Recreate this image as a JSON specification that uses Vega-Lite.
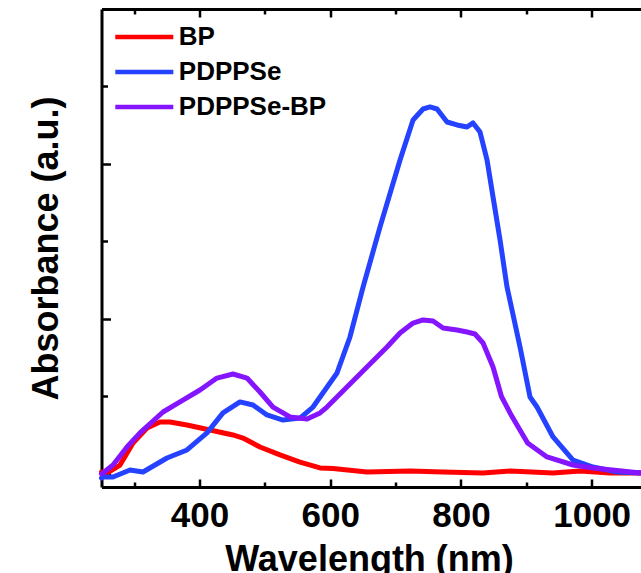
{
  "$schema": "https://vega.github.io/schema/vega-lite/v6.json",
  "width": 539.5,
  "height": 478,
  "autosize": "none",
  "padding": {"left": 101.5, "top": 9, "right": 0, "bottom": 86},
  "background": "white",
  "config": {
    "view": {"stroke": null},
    "font": "Liberation Sans",
    "axis": {"grid": false, "domainColor": "black", "tickColor": "black", "domainWidth": 3, "tickWidth": 2.5, "labelColor": "black", "titleColor": "black", "labelFont": "Liberation Sans", "titleFont": "Liberation Sans"}
  },
  "data": {"values": [
    {"sample": "BP", "wavelength": 250, "absorbance": 0.013},
    {"sample": "BP", "wavelength": 258.4, "absorbance": 0.006},
    {"sample": "BP", "wavelength": 278.3, "absorbance": 0.058},
    {"sample": "BP", "wavelength": 298.2, "absorbance": 0.2},
    {"sample": "BP", "wavelength": 319.6, "absorbance": 0.297},
    {"sample": "BP", "wavelength": 339.5, "absorbance": 0.335},
    {"sample": "BP", "wavelength": 354.8, "absorbance": 0.335},
    {"sample": "BP", "wavelength": 380.8, "absorbance": 0.316},
    {"sample": "BP", "wavelength": 416.0, "absorbance": 0.284},
    {"sample": "BP", "wavelength": 451.2, "absorbance": 0.252},
    {"sample": "BP", "wavelength": 466.5, "absorbance": 0.232},
    {"sample": "BP", "wavelength": 492.5, "absorbance": 0.174},
    {"sample": "BP", "wavelength": 523.1, "absorbance": 0.123},
    {"sample": "BP", "wavelength": 553.7, "absorbance": 0.077},
    {"sample": "BP", "wavelength": 584.4, "absorbance": 0.039},
    {"sample": "BP", "wavelength": 604.3, "absorbance": 0.035},
    {"sample": "BP", "wavelength": 656.2, "absorbance": 0.013},
    {"sample": "BP", "wavelength": 722.0, "absorbance": 0.019},
    {"sample": "BP", "wavelength": 772.6, "absorbance": 0.013},
    {"sample": "BP", "wavelength": 833.8, "absorbance": 0.006},
    {"sample": "BP", "wavelength": 875.1, "absorbance": 0.019},
    {"sample": "BP", "wavelength": 940.9, "absorbance": 0.006},
    {"sample": "BP", "wavelength": 982.2, "absorbance": 0.019},
    {"sample": "BP", "wavelength": 1028.1, "absorbance": 0.006},
    {"sample": "BP", "wavelength": 1075.5, "absorbance": 0.006},
    {"sample": "PDPPSe", "wavelength": 250, "absorbance": -0.026},
    {"sample": "PDPPSe", "wavelength": 252.3, "absorbance": -0.019},
    {"sample": "PDPPSe", "wavelength": 267.6, "absorbance": -0.019},
    {"sample": "PDPPSe", "wavelength": 293.6, "absorbance": 0.026},
    {"sample": "PDPPSe", "wavelength": 313.5, "absorbance": 0.013},
    {"sample": "PDPPSe", "wavelength": 350.2, "absorbance": 0.103},
    {"sample": "PDPPSe", "wavelength": 380.8, "absorbance": 0.155},
    {"sample": "PDPPSe", "wavelength": 411.4, "absorbance": 0.265},
    {"sample": "PDPPSe", "wavelength": 435.9, "absorbance": 0.394},
    {"sample": "PDPPSe", "wavelength": 461.9, "absorbance": 0.465},
    {"sample": "PDPPSe", "wavelength": 481.8, "absorbance": 0.445},
    {"sample": "PDPPSe", "wavelength": 503.2, "absorbance": 0.381},
    {"sample": "PDPPSe", "wavelength": 527.7, "absorbance": 0.348},
    {"sample": "PDPPSe", "wavelength": 553.7, "absorbance": 0.361},
    {"sample": "PDPPSe", "wavelength": 573.6, "absorbance": 0.432},
    {"sample": "PDPPSe", "wavelength": 584.4, "absorbance": 0.497},
    {"sample": "PDPPSe", "wavelength": 610.4, "absorbance": 0.652},
    {"sample": "PDPPSe", "wavelength": 630.2, "absorbance": 0.884},
    {"sample": "PDPPSe", "wavelength": 650.2, "absorbance": 1.206},
    {"sample": "PDPPSe", "wavelength": 676.2, "absorbance": 1.594},
    {"sample": "PDPPSe", "wavelength": 706.8, "absorbance": 2.026},
    {"sample": "PDPPSe", "wavelength": 726.7, "absorbance": 2.284},
    {"sample": "PDPPSe", "wavelength": 742.0, "absorbance": 2.355},
    {"sample": "PDPPSe", "wavelength": 752.7, "absorbance": 2.368},
    {"sample": "PDPPSe", "wavelength": 763.4, "absorbance": 2.355},
    {"sample": "PDPPSe", "wavelength": 778.7, "absorbance": 2.271},
    {"sample": "PDPPSe", "wavelength": 794.0, "absorbance": 2.252},
    {"sample": "PDPPSe", "wavelength": 809.3, "absorbance": 2.239},
    {"sample": "PDPPSe", "wavelength": 818.5, "absorbance": 2.265},
    {"sample": "PDPPSe", "wavelength": 829.2, "absorbance": 2.206},
    {"sample": "PDPPSe", "wavelength": 839.9, "absorbance": 2.026},
    {"sample": "PDPPSe", "wavelength": 849.1, "absorbance": 1.787},
    {"sample": "PDPPSe", "wavelength": 859.8, "absorbance": 1.51},
    {"sample": "PDPPSe", "wavelength": 870.5, "absorbance": 1.206},
    {"sample": "PDPPSe", "wavelength": 890.4, "absorbance": 0.819},
    {"sample": "PDPPSe", "wavelength": 905.7, "absorbance": 0.497},
    {"sample": "PDPPSe", "wavelength": 916.4, "absorbance": 0.432},
    {"sample": "PDPPSe", "wavelength": 940.9, "absorbance": 0.239},
    {"sample": "PDPPSe", "wavelength": 971.5, "absorbance": 0.09},
    {"sample": "PDPPSe", "wavelength": 1002.1, "absorbance": 0.045},
    {"sample": "PDPPSe", "wavelength": 1038.8, "absorbance": 0.013},
    {"sample": "PDPPSe", "wavelength": 1075.5, "absorbance": 0.006},
    {"sample": "PDPPSe-BP", "wavelength": 250, "absorbance": 0.0},
    {"sample": "PDPPSe-BP", "wavelength": 252.3, "absorbance": 0.006},
    {"sample": "PDPPSe-BP", "wavelength": 267.6, "absorbance": 0.058},
    {"sample": "PDPPSe-BP", "wavelength": 289.0, "absorbance": 0.174},
    {"sample": "PDPPSe-BP", "wavelength": 308.9, "absorbance": 0.265},
    {"sample": "PDPPSe-BP", "wavelength": 344.1, "absorbance": 0.4},
    {"sample": "PDPPSe-BP", "wavelength": 370.1, "absorbance": 0.465},
    {"sample": "PDPPSe-BP", "wavelength": 400.7, "absorbance": 0.542},
    {"sample": "PDPPSe-BP", "wavelength": 426.7, "absorbance": 0.619},
    {"sample": "PDPPSe-BP", "wavelength": 451.2, "absorbance": 0.645},
    {"sample": "PDPPSe-BP", "wavelength": 472.6, "absorbance": 0.619},
    {"sample": "PDPPSe-BP", "wavelength": 492.5, "absorbance": 0.529},
    {"sample": "PDPPSe-BP", "wavelength": 512.4, "absorbance": 0.432},
    {"sample": "PDPPSe-BP", "wavelength": 538.4, "absorbance": 0.368},
    {"sample": "PDPPSe-BP", "wavelength": 564.5, "absorbance": 0.355},
    {"sample": "PDPPSe-BP", "wavelength": 584.4, "absorbance": 0.394},
    {"sample": "PDPPSe-BP", "wavelength": 595.0, "absorbance": 0.432},
    {"sample": "PDPPSe-BP", "wavelength": 625.6, "absorbance": 0.561},
    {"sample": "PDPPSe-BP", "wavelength": 656.2, "absorbance": 0.69},
    {"sample": "PDPPSe-BP", "wavelength": 686.9, "absorbance": 0.819},
    {"sample": "PDPPSe-BP", "wavelength": 706.8, "absorbance": 0.91},
    {"sample": "PDPPSe-BP", "wavelength": 726.7, "absorbance": 0.974},
    {"sample": "PDPPSe-BP", "wavelength": 742.0, "absorbance": 0.994},
    {"sample": "PDPPSe-BP", "wavelength": 757.3, "absorbance": 0.987},
    {"sample": "PDPPSe-BP", "wavelength": 772.6, "absorbance": 0.942},
    {"sample": "PDPPSe-BP", "wavelength": 794.0, "absorbance": 0.929},
    {"sample": "PDPPSe-BP", "wavelength": 809.3, "absorbance": 0.916},
    {"sample": "PDPPSe-BP", "wavelength": 821.5, "absorbance": 0.903},
    {"sample": "PDPPSe-BP", "wavelength": 833.8, "absorbance": 0.845},
    {"sample": "PDPPSe-BP", "wavelength": 849.1, "absorbance": 0.69},
    {"sample": "PDPPSe-BP", "wavelength": 862.0, "absorbance": 0.5},
    {"sample": "PDPPSe-BP", "wavelength": 875.1, "absorbance": 0.394},
    {"sample": "PDPPSe-BP", "wavelength": 888.0, "absorbance": 0.3},
    {"sample": "PDPPSe-BP", "wavelength": 902.0, "absorbance": 0.2},
    {"sample": "PDPPSe-BP", "wavelength": 931.7, "absorbance": 0.11},
    {"sample": "PDPPSe-BP", "wavelength": 971.5, "absorbance": 0.058},
    {"sample": "PDPPSe-BP", "wavelength": 1002.1, "absorbance": 0.039},
    {"sample": "PDPPSe-BP", "wavelength": 1075.5, "absorbance": 0.006}
  ]},
  "layer": [
    {
      "mark": {"type": "line", "strokeWidth": 5, "strokeJoin": "round", "strokeCap": "round"},
      "encoding": {
        "x": {"field": "wavelength", "type": "quantitative",
          "scale": {"domain": [250, 1075.5], "nice": false, "zero": false},
          "axis": {"orient": "bottom", "values": [400, 600, 800, 1000], "format": "d", "tickSize": -8, "labelFontSize": 35, "labelFontWeight": "bold", "labelPadding": 19, "labelFlush": false,
            "title": "Wavelength (nm)", "titleFontSize": 36, "titleFontWeight": "bold", "titleX": 267.5, "titleY": 83, "titleBaseline": "alphabetic", "titleAlign": "center"}},
        "y": {"field": "absorbance", "type": "quantitative",
          "scale": {"domain": [-0.0839, 3], "nice": false, "zero": false},
          "axis": {"orient": "left", "values": [0, 1, 2], "tickSize": -9, "labels": false,
            "title": "Absorbance (a.u.)", "titleFontSize": 36, "titleFontWeight": "bold", "titleAngle": -90, "titleX": -55, "titleY": 239, "titleAlign": "center", "titleBaseline": "middle"}},
        "color": {"field": "sample", "type": "nominal",
          "scale": {"domain": ["BP", "PDPPSe", "PDPPSe-BP"], "range": ["#ff0000", "#2442ff", "#8514ff"]},
          "legend": {"orient": "none", "legendX": 29.8, "legendY": 15, "title": null, "symbolType": "M-3,0H3", "symbolSize": 374, "symbolStrokeWidth": 4.5, "labelFontSize": 26, "labelFontWeight": "bold", "labelFont": "Liberation Sans", "labelColor": "black", "rowPadding": 9, "labelOffset": 21.5, "padding": 0}}
      }
    },
    {
      "mark": {"type": "point", "opacity": 0},
      "encoding": {
        "x": {"field": "wavelength", "type": "quantitative",
          "axis": {"orient": "bottom", "values": [300, 500, 700, 900], "tickSize": -5, "labels": false, "domain": false, "title": null}},
        "y": {"field": "absorbance", "type": "quantitative",
          "axis": {"orient": "left", "values": [0.5, 1.5, 2.5], "tickSize": -6, "labels": false, "domain": false, "title": null}}
      }
    },
    {
      "mark": {"type": "point", "opacity": 0},
      "encoding": {
        "x": {"field": "wavelength", "type": "quantitative",
          "axis": {"orient": "top", "values": [400, 600, 800, 1000], "tickSize": -8, "labels": false, "domain": true, "title": null}},
        "y": {"field": "absorbance", "type": "quantitative", "axis": null}
      }
    },
    {
      "mark": {"type": "point", "opacity": 0},
      "encoding": {
        "x": {"field": "wavelength", "type": "quantitative",
          "axis": {"orient": "top", "values": [300, 500, 700, 900], "tickSize": -5, "labels": false, "domain": false, "title": null}},
        "y": {"field": "absorbance", "type": "quantitative", "axis": null}
      }
    }
  ],
  "resolve": {"axis": {"x": "independent", "y": "independent"}}
}
